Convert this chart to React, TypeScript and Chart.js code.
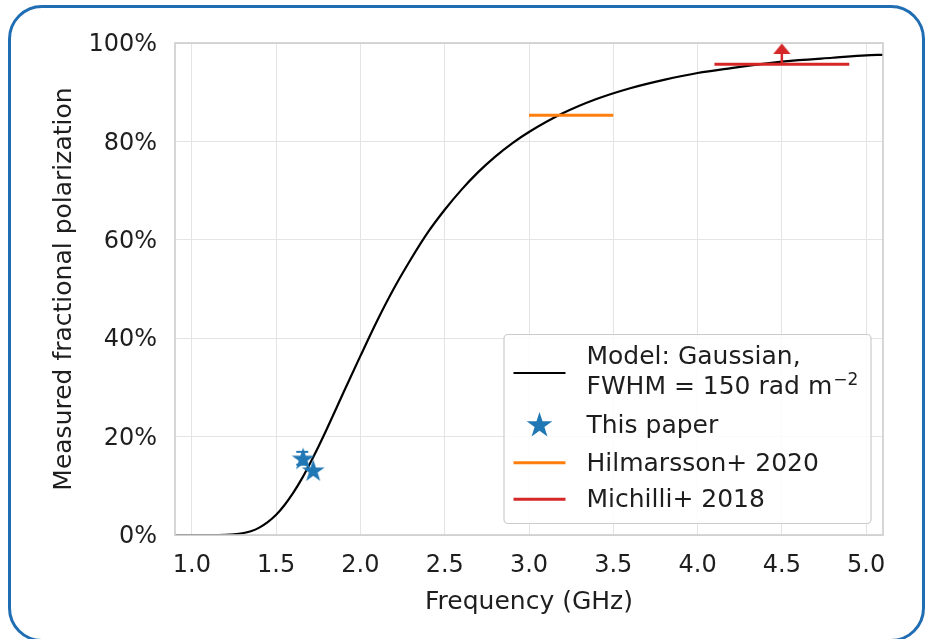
import React, { useEffect, useRef } from "react";
import { Chart, registerables } from "chart.js";

Chart.register(...registerables);

// Model curve (Gaussian depolarisation, FWHM = 150 rad m^-2)
const modelFreq = [0.9, 1.0, 1.1, 1.2, 1.25, 1.3, 1.35, 1.4, 1.45, 1.5, 1.55, 1.6, 1.65, 1.7, 1.75, 1.8, 1.9, 2.0, 2.1, 2.2, 2.3, 2.4, 2.5, 2.6, 2.7, 2.8, 2.9, 3.0, 3.2, 3.4, 3.6, 3.8, 4.0, 4.2, 4.4, 4.6, 4.8, 5.0, 5.1];
const modelPol = [0, 0, 0, 0.0004, 0.0013, 0.0035, 0.0077, 0.015, 0.026, 0.041, 0.061, 0.085, 0.113, 0.145, 0.179, 0.215, 0.29, 0.364, 0.436, 0.502, 0.561, 0.615, 0.661, 0.702, 0.738, 0.769, 0.796, 0.819, 0.857, 0.886, 0.908, 0.925, 0.939, 0.949, 0.958, 0.965, 0.97, 0.975, 0.976];

// This paper
const thisPaperFreq = [1.66, 1.72];
const thisPaperPol = [0.156, 0.132];
const thisPaperErrFreq = [1.655, 1.655];
const thisPaperErrPol = [0.143, 0.169];

// Hilmarsson+ 2020
const hilmarssonFreq = [3.0, 3.5];
const hilmarssonPol = [0.853, 0.853];

// Michilli+ 2018 (lower limit)
const michilliFreq = [4.1, 4.9];
const michilliPol = [0.957, 0.957];
const michilliArrowFreq = [4.5, 4.5];
const michilliArrowPol = [0.957, 0.978];
const michilliArrowHeadPol = [0.988];

// Axes
const xMin = 0.9;
const xMax = 5.1;
const xStep = 0.5;
const yMin = 0;
const yMax = 1;
const yStep = 0.2;
const xTitle = "Frequency (GHz)";
const yTitle = "Measured fractional polarization";

const FONT = "'DejaVu Sans', 'Liberation Sans', sans-serif";
const TEXT = "#1e1e1e";
const BLUE = "#1f77b4";
const ORANGE = "#ff7f0e";
const RED = "#d62728";

function pts(xs: number[], ys: number[]) {
  return xs.map((x, i) => ({ x, y: ys[i] }));
}

function makeStar(r: number, color: string) {
  const c = document.createElement("canvas");
  const s = Math.ceil(r * 2 + 2);
  c.width = s;
  c.height = s;
  const ctx = c.getContext("2d")!;
  drawStar(ctx, s / 2, s / 2 + r * 0.1, r, color);
  return c;
}

function drawStar(ctx: CanvasRenderingContext2D, cx: number, cy: number, r: number, color: string) {
  const inner = r * 0.382;
  ctx.beginPath();
  for (let i = 0; i < 10; i++) {
    const rad = i % 2 === 0 ? r : inner;
    const a = -Math.PI / 2 + (i * Math.PI) / 5;
    const px = cx + rad * Math.cos(a);
    const py = cy + rad * Math.sin(a);
    if (i === 0) ctx.moveTo(px, py);
    else ctx.lineTo(px, py);
  }
  ctx.closePath();
  ctx.fillStyle = color;
  ctx.fill();
}

function makeArrowHead(w: number, h: number, color: string) {
  const c = document.createElement("canvas");
  c.width = w;
  c.height = h;
  const ctx = c.getContext("2d")!;
  ctx.beginPath();
  ctx.moveTo(0, h);
  ctx.lineTo(w, h);
  ctx.lineTo(w / 2, 0);
  ctx.closePath();
  ctx.fillStyle = color;
  ctx.fill();
  return c;
}

const framePlugin = {
  id: "axesFrame",
  afterDatasetsDraw(chart: any) {
    const { ctx, chartArea: a } = chart;
    ctx.save();
    ctx.strokeStyle = "#cccccc";
    ctx.lineWidth = 1.6;
    ctx.strokeRect(a.left, a.top, a.right - a.left, a.bottom - a.top);
    ctx.restore();
  },
};

const xTitlePlugin = {
  id: "xTitle",
  afterDraw(chart: any) {
    const { ctx, chartArea: a } = chart;
    ctx.save();
    ctx.fillStyle = TEXT;
    ctx.font = `25px ${FONT}`;
    ctx.textAlign = "center";
    ctx.textBaseline = "alphabetic";
    ctx.fillText(xTitle, (a.left + a.right) / 2, a.bottom + 74);
    ctx.restore();
  },
};

const legendPlugin = {
  id: "customLegend",
  afterDraw(chart: any) {
    const { ctx, chartArea: a } = chart;
    const bw = 367;
    const bh = 189;
    const bx = a.right - 12.5 - bw;
    const by = a.bottom - 12 - bh;
    ctx.save();
    ctx.beginPath();
    ctx.roundRect(bx + 0.5, by + 0.5, bw, bh, 4);
    ctx.fillStyle = "rgba(255,255,255,0.85)";
    ctx.fill();
    ctx.strokeStyle = "#cccccc";
    ctx.lineWidth = 1.2;
    ctx.stroke();

    const sx0 = bx + 10;
    const sx1 = bx + 62;
    const tx = bx + 83;

    ctx.beginPath();
    ctx.moveTo(sx0, by + 39);
    ctx.lineTo(sx1, by + 39);
    ctx.strokeStyle = "#000000";
    ctx.lineWidth = 2;
    ctx.stroke();

    drawStar(ctx, bx + 36, by + 91.5, 13.5, BLUE);

    ctx.beginPath();
    ctx.moveTo(sx0, by + 128.7);
    ctx.lineTo(sx1, by + 128.7);
    ctx.strokeStyle = ORANGE;
    ctx.lineWidth = 3;
    ctx.stroke();

    ctx.beginPath();
    ctx.moveTo(sx0, by + 165.3);
    ctx.lineTo(sx1, by + 165.3);
    ctx.strokeStyle = RED;
    ctx.lineWidth = 3;
    ctx.stroke();

    ctx.fillStyle = TEXT;
    ctx.textBaseline = "alphabetic";
    ctx.textAlign = "left";
    ctx.font = `25px ${FONT}`;
    ctx.fillText("Model: Gaussian,", tx, by + 30);
    const l2 = "FWHM = 150 rad m";
    ctx.fillText(l2, tx, by + 60);
    const w2 = ctx.measureText(l2).width;
    ctx.font = `17px ${FONT}`;
    ctx.fillText("\u22122", tx + w2 + 1, by + 51);
    ctx.font = `25px ${FONT}`;
    ctx.fillText("This paper", tx, by + 99);
    ctx.fillText("Hilmarsson+ 2020", tx, by + 136.5);
    ctx.fillText("Michilli+ 2018", tx, by + 172.5);
    ctx.restore();
  },
};

export default function App() {
  const ref = useRef<HTMLCanvasElement | null>(null);

  useEffect(() => {
    if (!ref.current) return;
    const star = makeStar(12, BLUE);
    const arrowHead = makeArrowHead(18, 11, RED);

    const chart = new Chart(ref.current, {
      type: "line",
      data: {
        datasets: [
          {
            label: "Model: Gaussian, FWHM = 150 rad m^-2",
            data: pts(modelFreq, modelPol),
            borderColor: "#000000",
            borderWidth: 2.2,
            pointRadius: 0,
            cubicInterpolationMode: "monotone",
            order: 10,
          },
          {
            label: "This paper (error)",
            data: pts(thisPaperErrFreq, thisPaperErrPol),
            borderColor: "rgba(31,119,180,0.75)",
            borderWidth: 1.5,
            pointStyle: "line",
            pointRadius: 6,
            pointBorderWidth: 2,
            pointBorderColor: BLUE,
            order: 3,
          },
          {
            label: "This paper",
            data: pts(thisPaperFreq, thisPaperPol),
            showLine: false,
            pointStyle: star as any,
            pointRadius: 12,
            order: 2,
          },
          {
            label: "Hilmarsson+ 2020",
            data: pts(hilmarssonFreq, hilmarssonPol),
            borderColor: ORANGE,
            borderWidth: 3,
            pointRadius: 0,
            order: 4,
          },
          {
            label: "Michilli+ 2018",
            data: pts(michilliFreq, michilliPol),
            borderColor: RED,
            borderWidth: 3,
            pointRadius: 0,
            order: 4,
          },
          {
            label: "Michilli+ 2018 limit",
            data: pts(michilliArrowFreq, michilliArrowPol),
            borderColor: RED,
            borderWidth: 2.5,
            pointRadius: 0,
            order: 4,
          },
          {
            label: "Michilli+ 2018 arrow",
            data: pts([michilliArrowFreq[0]], michilliArrowHeadPol),
            showLine: false,
            pointStyle: arrowHead as any,
            pointRadius: 9,
            order: 4,
          },
        ],
      },
      options: {
        responsive: false,
        animation: false,
        parsing: false as any,
        layout: { padding: { left: 0, right: 45, top: 43, bottom: 0 } },
        plugins: {
          legend: { display: false },
          tooltip: { enabled: false },
        },
        scales: {
          x: {
            type: "linear",
            min: xMin,
            max: xMax,
            afterFit: (s: any) => {
              s.height = 104;
            },
            border: { display: false },
            grid: { color: "#e4e4e4", lineWidth: 1, drawTicks: false },
            ticks: {
              stepSize: xStep,
              includeBounds: false,
              padding: 16,
              color: TEXT,
              font: { family: FONT, size: 24 },
              maxRotation: 0,
              callback: (v: any) => Number(v).toFixed(1),
            },
            title: { display: false },
          },
          y: {
            type: "linear",
            min: yMin,
            max: yMax,
            afterFit: (s: any) => {
              s.width = 175;
            },
            border: { display: false },
            grid: { color: "#e4e4e4", lineWidth: 1, drawTicks: false },
            ticks: {
              stepSize: yStep,
              padding: 18,
              labelOffset: 2,
              color: TEXT,
              font: { family: FONT, size: 24 },
              callback: (v: any) => `${Math.round(Number(v) * 100)}%`,
            },
            title: {
              display: true,
              text: yTitle,
              color: TEXT,
              font: { family: FONT, size: 25 },
              padding: { top: 49, bottom: 0 },
            },
          },
        },
      },
      plugins: [framePlugin, xTitlePlugin, legendPlugin],
    });
    return () => chart.destroy();
  }, []);

  return (
    <div>
      <canvas
        ref={ref}
        width={928}
        height={639}
        style={{ position: "fixed", left: 0, top: 0, width: 928, height: 639, display: "block" }}
      />
      <div
        style={{
          position: "fixed",
          left: 8,
          top: 5,
          width: 917,
          height: 637,
          border: "3px solid #1f6db3",
          borderRadius: 34,
          boxSizing: "border-box",
          pointerEvents: "none",
        }}
      />
    </div>
  );
}
